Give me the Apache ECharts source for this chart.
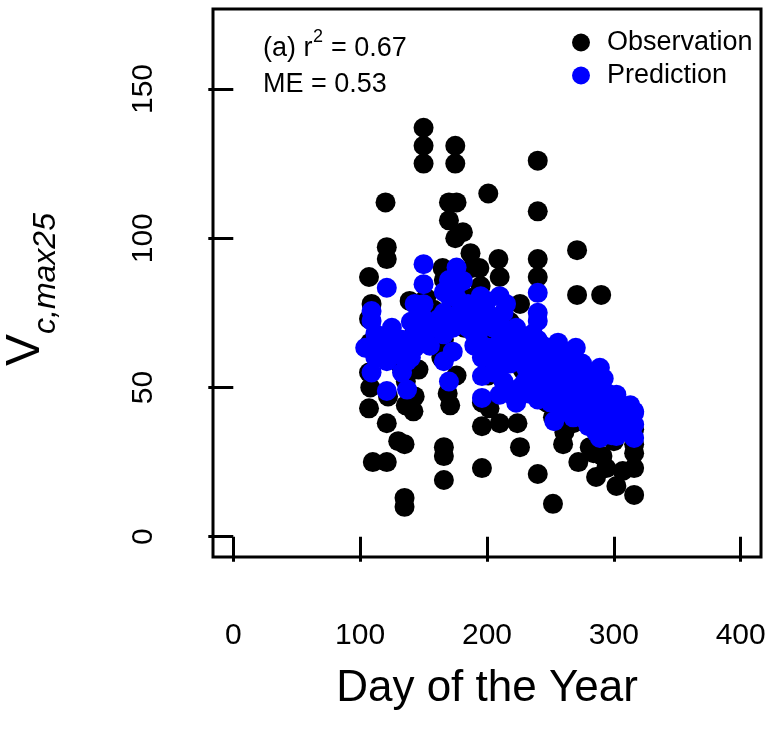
<!DOCTYPE html>
<html>
<head>
<meta charset="utf-8">
<script src="https://cdn.jsdelivr.net/npm/echarts@6/dist/echarts.min.js"></script>
<style>
  html, body { margin: 0; padding: 0; background: #fff; }
  #chart { width: 774px; height: 742px; }
</style>
</head>
<body>
<div id="chart"></div>
<script>
// Sampling day and measured Vcmax25 (black dots)
const obsDay = [
  107, 109, 107, 108, 107, 108, 107, 110,
  120, 121, 121, 120, 121, 121, 122,
  130, 129, 131,
  135, 135, 135, 136, 136,
  142, 143, 139, 143, 141,
  146, 147,
  150, 150, 150, 151, 152,
  157, 158,
  165, 166, 166, 166, 166, 164, 166,
  170, 170, 171, 169,
  175, 175, 176, 175, 176, 174,
  181, 182,
  187, 188, 187, 186,
  196, 196, 196, 194, 195, 197,
  201, 202, 201, 200,
  209, 210, 210, 208, 211,
  218, 224, 220,
  226, 226, 228,
  240, 240, 240, 240, 240, 239, 241,
  247,
  252, 252,
  260, 261, 258, 256,
  271, 271, 272, 268, 270,
  281, 284, 286, 279,
  290, 294, 291, 292,
  302, 307, 300,
  316, 316, 316, 316, 316
];
const obsVcmax = [
  87, 78, 73, 65, 55, 50, 43, 25,
  112, 97, 93, 62, 38, 25, 47,
  32, 66, 58,
  31, 13, 10, 44, 52,
  42, 47, 79, 69, 57,
  56, 74,
  137, 131, 125, 66, 80,
  69, 76,
  90, 86, 30, 27, 19, 60, 66,
  112, 106, 44, 48,
  131, 125, 112, 100, 54, 75,
  102, 70,
  95, 90, 80, 74,
  23, 37, 45, 90, 84, 66,
  115, 43, 54, 70,
  93, 87, 38, 60, 74,
  72, 38, 62,
  78, 30, 56,
  126, 109, 93, 87, 21, 55, 64,
  45,
  11, 40,
  31, 35, 50, 58,
  96, 81, 25, 38, 46,
  30, 28, 20, 42,
  81, 23, 27, 38,
  17, 22, 32,
  14, 23, 28, 31, 36
];

// Sampling day and modelled Vcmax25 (blue dots)
const predDay = [
  109, 109, 109, 109, 104, 112, 112, 116,
  121, 121, 121, 121, 125, 125,
  130, 130, 133, 133,
  137, 137, 137, 140, 140,
  143, 143, 143, 143, 146, 146,
  150, 150, 150, 150, 155, 155,
  160, 162,
  166, 166, 166, 166,
  170, 170, 170, 173, 173,
  176, 176, 176, 178,
  181, 181, 181, 185, 185,
  190, 190, 190, 193, 193,
  196, 196, 196, 195, 196,
  200, 200, 200, 205, 205, 205,
  210, 210, 210, 210, 210,
  213, 213, 213, 215, 215, 218, 218, 218,
  223, 223, 223, 223, 226, 226,
  230, 230, 230, 230, 233, 233, 233, 236, 236,
  240, 240, 240, 240, 240, 240, 240,
  244, 244, 244, 247, 247, 247, 250, 250, 250,
  253, 253, 253,
  256, 256, 256, 259, 259, 259,
  262, 262, 262, 262, 265, 265, 265, 268,
  270, 270, 270, 273, 273,
  275, 275, 275, 275, 278, 278, 278,
  280, 280, 280, 283, 283, 283, 286, 286,
  289, 289, 289, 289, 289, 292, 292, 292,
  295, 295, 295, 298, 298, 298,
  302, 302, 302, 302, 306, 306, 306, 310, 310, 313, 313,
  316, 316, 316, 316
];
const predVcmax = [
  75.6, 72.3, 62.8, 55, 63.3, 68, 60, 65,
  83.4, 58.8, 48.8, 66, 62, 70,
  61, 65, 55, 66,
  49.3, 58.8, 62, 60, 72,
  78, 71, 63.3, 68, 66, 75,
  91.3, 84.6, 77.9, 73, 70, 64,
  70, 73,
  67.8, 58.8, 75, 82,
  80.6, 52, 86, 70, 62,
  90.2, 84, 80, 75,
  85.7, 76, 72.3, 70, 78,
  72, 68, 64, 75, 66,
  53.8, 46.5, 60, 80.6, 70,
  79, 63.4, 75, 70, 60, 55,
  80.6, 47.6, 65, 73, 58,
  62, 52, 75, 78, 68, 58, 48, 66,
  44.9, 66, 60, 70, 50, 64,
  57, 62, 52, 66, 60, 48, 55, 68, 52,
  81.7, 75, 72.3, 46, 60, 55, 66,
  52, 58, 64, 50, 62, 57, 45, 55, 60,
  38.7, 48, 56,
  65, 60, 52, 55, 47, 42,
  58, 50, 44, 62, 60, 52, 45, 40,
  63.3, 55, 47.6, 50, 43,
  52, 45, 40, 58, 55, 47, 40,
  37, 44, 50, 52, 41, 37, 46, 35,
  56.6, 36.5, 33.1, 45, 50, 53, 43, 38,
  40, 35, 48, 45, 38, 34,
  47.6, 33.7, 37, 42, 43, 38, 35, 40, 36, 38, 44,
  42, 37.6, 33.1, 41.5
];

const xTicks = [0, 100, 200, 300, 400];
const yTicks = [0, 50, 100, 150];

const FONT = '"Liberation Sans", Arial, Helvetica, sans-serif';

const zip = (xs, ys) => xs.map((x, i) => [x, ys[i]]);

const chart = echarts.init(document.getElementById('chart'), null, { renderer: 'canvas' });

chart.setOption({
  animation: false,
  backgroundColor: '#ffffff',
  textStyle: { fontFamily: FONT, color: '#000' },
  grid: {
    left: 213, right: 13, top: 9, bottom: 185,
    show: true, borderColor: '#000', borderWidth: 3, backgroundColor: 'transparent'
  },
  xAxis: {
    type: 'value',
    min: -16, max: 416,
    axisLine: { show: false },
    splitLine: { show: false },
    axisTick: { show: true, length: 25, customValues: xTicks, lineStyle: { color: '#000', width: 3 } },
    axisLabel: { customValues: xTicks, fontSize: 30, color: '#000', fontFamily: FONT, margin: 64 },
    name: 'Day of the Year',
    nameLocation: 'middle',
    nameGap: 110,
    nameTextStyle: { fontSize: 44, color: '#000', fontFamily: FONT }
  },
  yAxis: {
    type: 'value',
    min: -6.8, max: 176.8,
    axisLine: { show: false },
    splitLine: { show: false },
    axisTick: { show: true, length: 25, customValues: yTicks, lineStyle: { color: '#000', width: 3 } },
    axisLabel: { customValues: yTicks, rotate: 90, fontSize: 30, color: '#000', fontFamily: FONT, margin: 54 }
  },
  legend: {
    orient: 'vertical',
    left: 572, top: 29,
    padding: 0,
    itemGap: 6,
    itemWidth: 18, itemHeight: 18,
    icon: 'circle',
    textStyle: { fontSize: 27, color: '#000', fontFamily: FONT, padding: [0, 0, 0, 12] },
    data: ['Observation', 'Prediction']
  },
  graphic: [
    {
      type: 'group', x: 50, y: 288, rotation: Math.PI / 2,
      children: [
        { type: 'text', x: -78, y: 0,
          style: { text: 'V', font: '48px ' + FONT, fill: '#000', textAlign: 'left', textVerticalAlign: 'bottom' } },
        { type: 'text', x: -46, y: 12,
          style: { text: 'c,max25', font: 'italic 32px ' + FONT, fill: '#000', textAlign: 'left', textVerticalAlign: 'bottom' } }
      ]
    },
    { type: 'text', left: 263, top: 35,
      style: { text: '(a) r', font: '27px ' + FONT, fill: '#000' } },
    { type: 'text', left: 313, top: 28,
      style: { text: '2', font: '18px ' + FONT, fill: '#000' } },
    { type: 'text', left: 331, top: 35,
      style: { text: '= 0.67', font: '27px ' + FONT, fill: '#000' } },
    { type: 'text', left: 263, top: 71,
      style: { text: 'ME = 0.53', font: '27px ' + FONT, fill: '#000' } }
  ],
  series: [
    {
      name: 'Observation', type: 'scatter', symbol: 'circle', symbolSize: 20,
      itemStyle: { color: '#000000', opacity: 1 },
      data: zip(obsDay, obsVcmax)
    },
    {
      name: 'Prediction', type: 'scatter', symbol: 'circle', symbolSize: 20,
      itemStyle: { color: '#0000ff', opacity: 1 },
      data: zip(predDay, predVcmax)
    }
  ]
});
</script>
</body>
</html>
